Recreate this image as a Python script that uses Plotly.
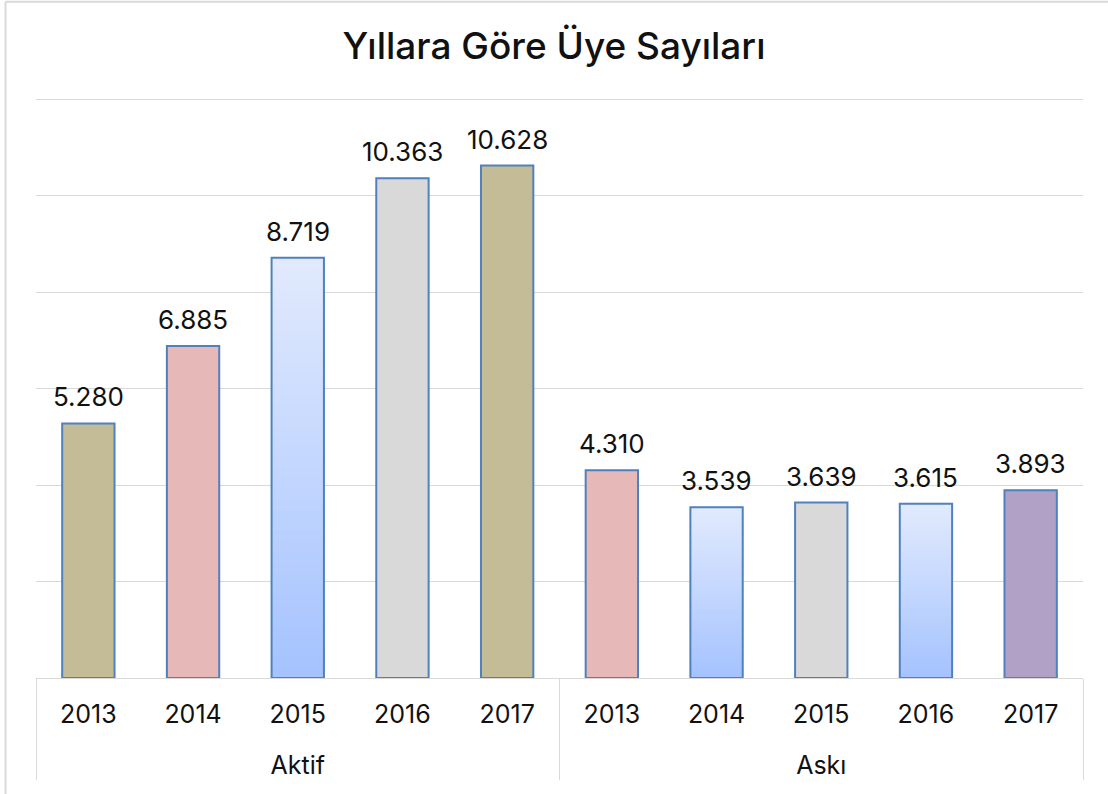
import plotly.graph_objects as go

# --- data -------------------------------------------------------------
years = ["2013", "2014", "2015", "2016", "2017"]
groups = ["Aktif", "Askı"]
aktif = [5280, 6885, 8719, 10363, 10628]
aski = [4310, 3539, 3639, 3615, 3893]

# fill style of each bar, in drawing order (Aktif years, then Askı years)
bar_styles = ["tan", "pink", "grad", "gray", "tan",
              "pink", "grad", "gray", "grad", "purple"]

# --- derived ----------------------------------------------------------
# group names get a leading line break so they sit lower under the years
x_outer = ["<br>" + g for g in groups for _ in years]
x_inner = years * len(groups)
values = aktif + aski
x = [x_outer, x_inner]

solid = {"tan": "#C4BC96", "pink": "#E6B9B8", "gray": "#D9D9D9",
         "purple": "#B2A1C7"}
grad_top = (0xE1, 0xEA, 0xFD)
grad_bottom = (0xA4, 0xC2, 0xFF)
outline = "#4F81BD"
font_family = "Inter, Lato, 'Open Sans', sans-serif"


def mix(t):
    c = [round(a + (b - a) * t) for a, b in zip(grad_top, grad_bottom)]
    return "rgb({},{},{})".format(*c)


fig = go.Figure()

# base layer: flat colours, gradient bars start with their lightest tone
fig.add_trace(go.Bar(
    x=x, y=values, width=0.5,
    marker=dict(color=[solid.get(s, mix(0)) for s in bar_styles],
                line=dict(width=0)),
    hoverinfo="skip", showlegend=False,
))

# gradient bars: progressively shorter and darker layers on top
steps = 40
for k in range(1, steps):
    t = k / steps
    fig.add_trace(go.Bar(
        x=x,
        y=[v * (1 - t) if s == "grad" else None
           for v, s in zip(values, bar_styles)],
        width=0.5,
        marker=dict(color=mix(t), line=dict(width=0)),
        hoverinfo="skip", showlegend=False,
    ))

# outline layer carrying the values
fig.add_trace(go.Bar(
    x=x, y=values, width=0.5,
    marker=dict(color="rgba(0,0,0,0)", line=dict(color=outline, width=2)),
    showlegend=False,
))

# value labels above the bars
for i, v in enumerate(values):
    fig.add_annotation(
        x=i, y=v, xref="x", yref="y",
        text=f"{v:,}".replace(",", "."),
        showarrow=False, yanchor="bottom", yshift=9,
        font=dict(family=font_family, size=26, color="#111111"),
    )

# outer frame (top and left edges)
fig.add_shape(type="line", xref="paper", yref="paper",
              x0=-0.0291, x1=1.03, y0=1.166, y1=1.166,
              line=dict(color="#D9D9D9", width=2))
fig.add_shape(type="line", xref="paper", yref="paper",
              x0=-0.0291, x1=-0.0291, y0=-0.22, y1=1.166,
              line=dict(color="#D9D9D9", width=2))

fig.update_layout(
    width=1108, height=794,
    margin=dict(l=36, r=25, t=98, b=116),
    barmode="overlay",
    paper_bgcolor="white", plot_bgcolor="white",
    title=dict(text="Yıllara Göre Üye Sayıları", x=0.5, xanchor="center",
               y=1 - 46 / 794, yanchor="middle", yref="container",
               font=dict(family=font_family, size=37, color="#111111",
                         weight=500)),
    font=dict(family=font_family, color="#111111"),
    xaxis=dict(showdividers=True, dividercolor="#D9D9D9", dividerwidth=1,
               showline=True, linecolor="#D9D9D9", linewidth=1,
               ticks="", ticklabelstandoff=14,
               tickfont=dict(size=25, color="#111111"),
               showgrid=False),
    yaxis=dict(range=[0, 12030], dtick=2000, showticklabels=False,
               showgrid=True, gridcolor="#D9D9D9", gridwidth=1,
               zeroline=False, showline=False),
)

fig.write_html("out.html")
